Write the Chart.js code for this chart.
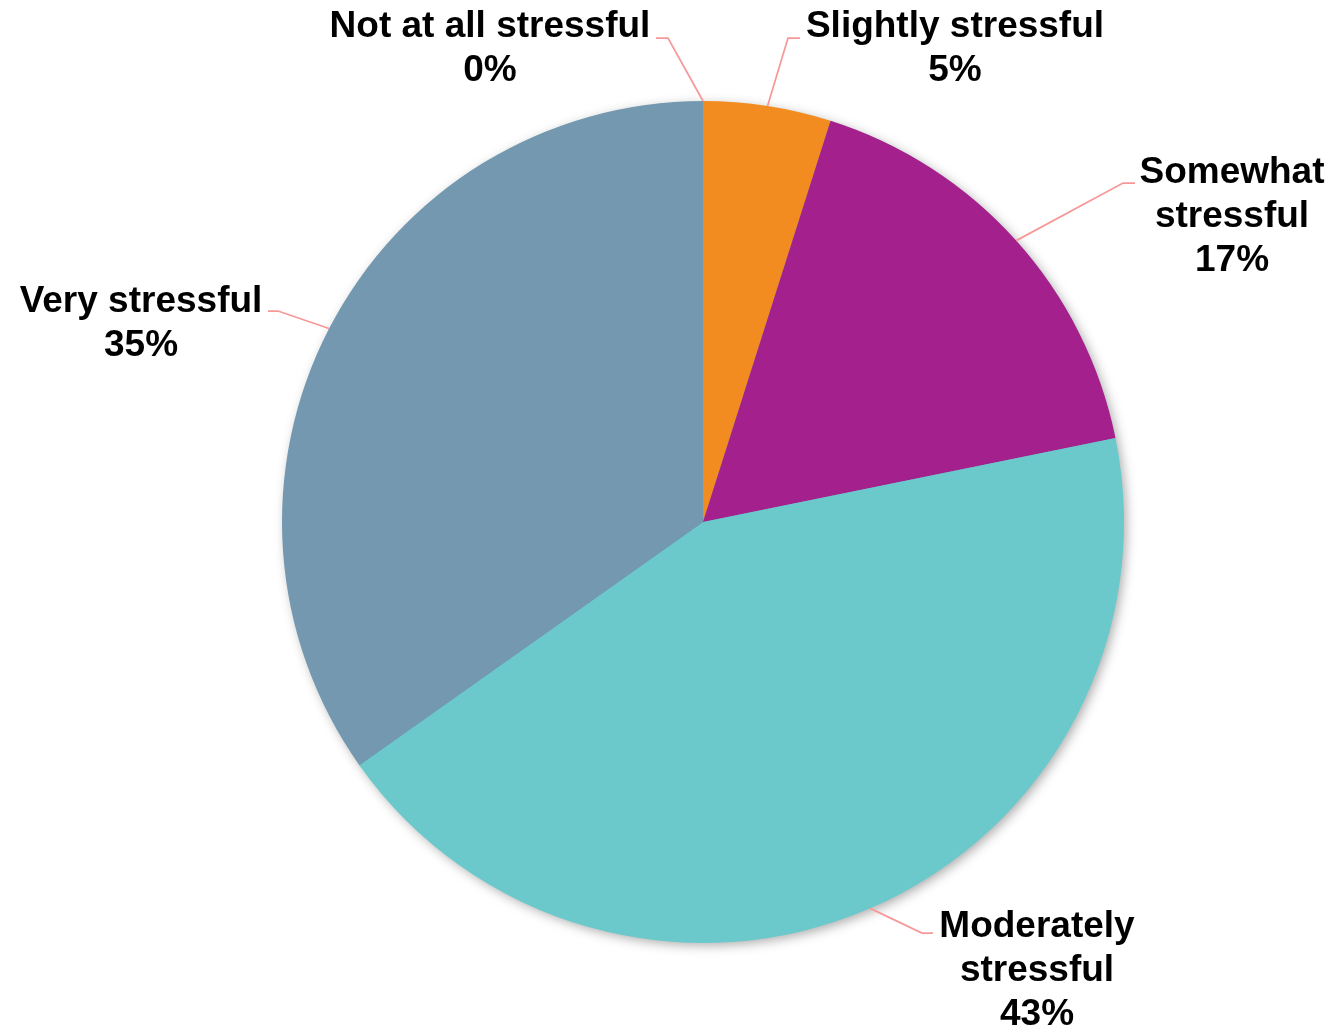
<!DOCTYPE html>
<html>
<head>
<meta charset="utf-8">
<script src="https://cdn.jsdelivr.net/npm/chart.js@4/dist/chart.umd.min.js"></script>
<style>
  html, body { margin: 0; padding: 0; background: #ffffff; }
  #wrap { width: 1334px; height: 1030px; position: relative; }
</style>
</head>
<body>
<div id="wrap"><canvas id="c" width="1334" height="1030"></canvas></div>
<script>
// ---- data ----
const categories = ["Not at all stressful", "Slightly stressful", "Somewhat stressful", "Moderately stressful", "Very stressful"];
const shares = [0, 4.9, 16.9, 43.4, 34.8];
const sliceColors = ["#7398B0", "#F28C20", "#A4208C", "#6BC9CB", "#7398B0"];

// ---- label layout (pixel offsets from pie centre) ----
const labelTextLines = [
  ["Not at all stressful"],
  ["Slightly stressful"],
  ["Somewhat", "stressful"],
  ["Moderately", "stressful"],
  ["Very stressful"]
];
const labelLayout = [
  { tx: -213, ty: -485, ex: -35, ey: -484, hx: -47 },
  { tx: 252,  ty: -485, ex: 85,  ey: -484, hx: 97 },
  { tx: 529,  ty: -339, ex: 420, ey: -339, hx: 432 },
  { tx: 334,  ty: 415,  ex: 219, ey: 411,  hx: 230 },
  { tx: -562, ty: -210, ex: -425, ey: -211, hx: -435 }
];

const shadowPlugin = {
  id: 'pieShadow',
  beforeDatasetsDraw(chart) {
    const arc = chart.getDatasetMeta(0).data[1];
    if (!arc) return;
    const ctx = chart.ctx;
    ctx.save();
    ctx.shadowColor = 'rgba(0,0,0,0.35)';
    ctx.shadowBlur = 12;
    ctx.shadowOffsetX = 3;
    ctx.shadowOffsetY = 3;
    ctx.fillStyle = '#7398B0';
    ctx.beginPath();
    ctx.arc(arc.x, arc.y, arc.outerRadius - 1, 0, Math.PI * 2);
    ctx.fill();
    ctx.restore();
  }
};

const labelPlugin = {
  id: 'leaderLabels',
  afterDatasetsDraw(chart) {
    const ctx = chart.ctx;
    const meta = chart.getDatasetMeta(0);
    meta.data.forEach((arc, i) => {
      const L = labelLayout[i];
      const mid = (arc.startAngle + arc.endAngle) / 2;
      const sx = arc.x + Math.cos(mid) * arc.outerRadius;
      const sy = arc.y + Math.sin(mid) * arc.outerRadius;
      ctx.save();
      ctx.strokeStyle = '#F79898';
      ctx.lineWidth = 1.75;
      ctx.beginPath();
      ctx.moveTo(sx, sy);
      ctx.lineTo(arc.x + L.ex, arc.y + L.ey);
      ctx.lineTo(arc.x + L.hx, arc.y + L.ey);
      ctx.stroke();
      ctx.fillStyle = '#000000';
      ctx.font = 'bold 37px "Liberation Sans", Arial, sans-serif';
      ctx.textAlign = 'center';
      ctx.textBaseline = 'alphabetic';
      const lines = labelTextLines[i].concat([Math.round(shares[i]) + '%']);
      lines.forEach((t, k) => {
        ctx.fillText(t, arc.x + L.tx, arc.y + L.ty + k * 44);
      });
      ctx.restore();
    });
  }
};

new Chart(document.getElementById('c'), {
  type: 'pie',
  data: {
    labels: categories,
    datasets: [{
      data: shares,
      backgroundColor: sliceColors,
      borderWidth: 0,
      hoverOffset: 0,
      offset: 0
    }]
  },
  options: {
    responsive: false,
    animation: false,
    layout: { padding: { top: 101, bottom: 87, left: 282, right: 210 } },
    plugins: {
      legend: { display: false },
      tooltip: { enabled: false },
      title: { display: false }
    }
  },
  plugins: [shadowPlugin, labelPlugin]
});
</script>
</body>
</html>
